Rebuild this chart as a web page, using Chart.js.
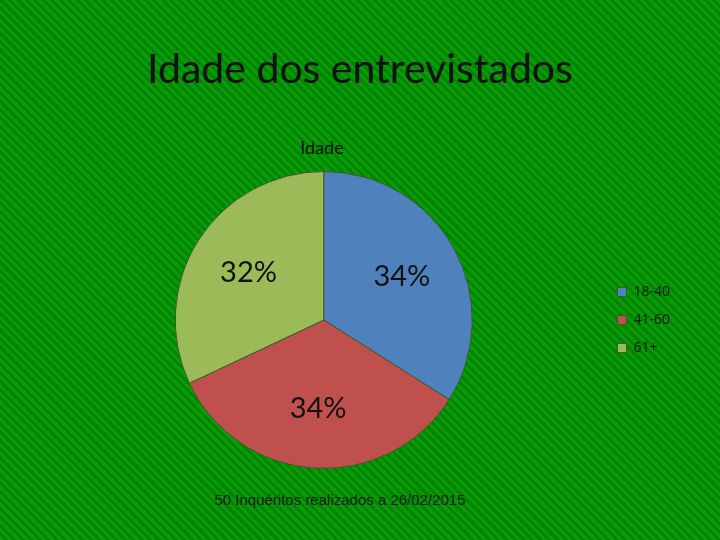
<!DOCTYPE html>
<html>
<head>
<meta charset="utf-8">
<script src="https://cdn.jsdelivr.net/npm/chart.js@4.4.1/dist/chart.umd.min.js"></script>
<style>
    html, body {
        margin: 0;
        padding: 0;
    }
    body {
        width: 720px;
        height: 540px;
        overflow: hidden;
        position: relative;
        background-color: #089008;
        background-image: repeating-linear-gradient(45deg, #0a9a0a 0px, #0a9a0a 3px, #008600 3px, #008600 6px);
        font-family: Lato, "Open Sans", sans-serif;
    }
    #titulo {
        position: absolute;
        top: 43px;
        left: 0;
        width: 720px;
        text-align: center;
        font-size: 41px;
        color: #111;
        margin: 0;
        font-weight: normal;
    }
    #subtitulo {
        position: absolute;
        top: 136px;
        left: 222px;
        width: 200px;
        text-align: center;
        font-size: 18px;
        color: #111;
    }
    #nota {
        position: absolute;
        top: 491px;
        left: 140px;
        width: 400px;
        text-align: center;
        font-family: "Liberation Sans", Arial, sans-serif;
        font-size: 15px;
        color: #1a1a1a;
    }
    #grafico {
        position: absolute;
        top: 0;
        left: 0;
    }
</style>
</head>
<body>
<h1 id="titulo">Idade dos entrevistados</h1>
<div id="subtitulo">Idade</div>
<div id="nota">50 Inquéritos realizados a 26/02/2015</div>
<canvas id="grafico" width="720" height="540"></canvas>

<script>
const faixas = ['18-40', '41-60', '61+'];
const entrevistados = [17, 17, 16];
const cores = ['#4f81bd', '#c0504d', '#9bbb59'];

// escreve a percentagem dentro de cada fatia
const rotulosPercentagem = {
    id: 'rotulosPercentagem',
    afterDatasetsDraw(chart) {
        const ctx = chart.ctx;
        const meta = chart.getDatasetMeta(0);
        const total = entrevistados.reduce((a, b) => a + b, 0);
        ctx.save();
        ctx.font = '29px Lato, "Open Sans", sans-serif';
        ctx.fillStyle = '#111';
        ctx.textAlign = 'center';
        ctx.textBaseline = 'middle';
        meta.data.forEach((arc, i) => {
            const meio = (arc.startAngle + arc.endAngle) / 2;
            const r = arc.outerRadius * 0.6;
            const x = arc.x + Math.cos(meio) * r;
            const y = arc.y + Math.sin(meio) * r;
            const pct = Math.round(entrevistados[i] / total * 100);
            ctx.fillText(pct + '%', x, y);
        });
        ctx.restore();
    }
};

function desenharGrafico() {
    const ctx = document.getElementById('grafico').getContext('2d');

    new Chart(ctx, {
        type: 'pie',
        data: {
            labels: faixas,
            datasets: [{
                data: entrevistados,
                backgroundColor: cores,
                borderColor: '#3d5a2a',
                borderWidth: 1
            }]
        },
        options: {
            responsive: false,
            animation: false,
            layout: {
                padding: { top: 171, bottom: 71, left: 44, right: 40 }
            },
            plugins: {
                legend: {
                    position: 'right',
                    labels: {
                        boxWidth: 9,
                        boxHeight: 9,
                        padding: 14,
                        color: '#111',
                        font: { size: 14, family: '"Open Sans", sans-serif' }
                    }
                },
                tooltip: { enabled: false }
            }
        },
        plugins: [rotulosPercentagem]
    });
}

document.addEventListener('DOMContentLoaded', function() {
    Promise.all([
        document.fonts.load('29px Lato'),
        document.fonts.load('14px "Open Sans"')
    ]).then(desenharGrafico, desenharGrafico);
});
</script>
</body>
</html>
